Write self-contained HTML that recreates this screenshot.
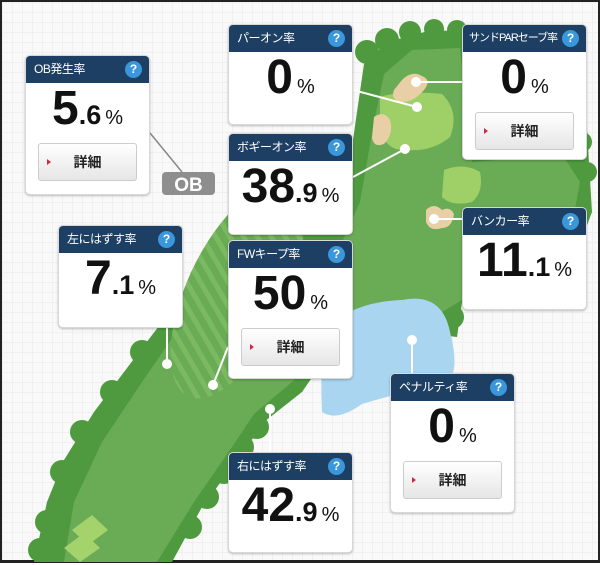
<!DOCTYPE html>
<html><head><meta charset="utf-8"><style>
*{margin:0;padding:0;box-sizing:border-box}
body{width:600px;height:563px;overflow:hidden;background:#fff;font-family:"Liberation Sans","Noto Sans CJK JP",sans-serif}
#f{position:absolute;left:0;top:0;width:600px;height:563px;border:2px solid #222;border-bottom-width:3px;
background-color:#f9f9f9;background-image:linear-gradient(#f0f0f0 1px,transparent 1px),linear-gradient(90deg,#f0f0f0 1px,transparent 1px);background-size:10px 10px}
svg{position:absolute;left:0;top:0}
.c{position:absolute;width:125px;background:#fff;border:1px solid #d8d8d8;border-radius:5px;box-shadow:0 1px 2px rgba(0,0,0,.25);overflow:hidden}
.h{height:27px;background:#1d3f63;color:#fff;font-size:12px;line-height:27px;padding-left:8px;position:relative;letter-spacing:-0.5px;white-space:nowrap}
.q{position:absolute;right:7px;top:5px;width:17px;height:17px;border-radius:50%;background:#3a97db;color:#fff;font-size:12px;font-weight:bold;line-height:17px;text-align:center;letter-spacing:0}
.v{text-align:center;color:#111;font-weight:bold;height:60px;line-height:52px;white-space:nowrap}
.v b{font-size:48px}.v i{font-style:normal;font-size:27px}.v s{text-decoration:none;font-size:20px;font-weight:normal;margin-left:4px}
.btn{margin:0 12px;height:38px;border:1px solid #ccc;border-radius:3px;background:linear-gradient(#fff,#e6e6e6);font-size:14px;font-weight:bold;text-align:center;line-height:36px;position:relative;color:#222}
.btn:before{content:"";position:absolute;left:8px;top:15px;border-left:4px solid #d0284a;border-top:3px solid transparent;border-bottom:3px solid transparent}
</style></head><body><div id="f">
<svg width="600" height="563" viewBox="0 0 600 563">
<defs>
<pattern id="st" width="12" height="12" patternUnits="userSpaceOnUse" patternTransform="rotate(-55)"><rect width="12" height="12" fill="#6aab56"/><rect width="5" height="12" fill="#7cba62"/></pattern>
</defs>
<polygon fill="#4f9a3f" points="32,560 45,500 62,458 92,410 122,370 160,320 186,284 215,258 240,243 330,213 345,180 355,110 362,62 385,40 430,28 470,30 470,150 585,128 590,210 560,290 460,300 455,335 430,332 340,332 300,390 262,420 240,452 200,505 170,560"/>
<g fill="#4f9a3f"><circle cx="365" cy="50" r="12"/><circle cx="385" cy="38" r="12"/><circle cx="408" cy="30" r="11"/><circle cx="432" cy="27" r="10"/><circle cx="455" cy="28" r="10"/><circle cx="580" cy="140" r="10"/><circle cx="585" cy="170" r="10"/><circle cx="450" cy="315" r="12"/><circle cx="440" cy="300" r="11"/><circle cx="255" cy="425" r="12"/><circle cx="240" cy="445" r="12"/><circle cx="222" cy="470" r="12"/><circle cx="205" cy="495" r="12"/><circle cx="188" cy="525" r="12"/><circle cx="60" cy="470" r="12"/><circle cx="80" cy="430" r="12"/><circle cx="110" cy="390" r="12"/><circle cx="140" cy="350" r="12"/><circle cx="170" cy="310" r="12"/><circle cx="200" cy="275" r="12"/><circle cx="45" cy="520" r="12"/><circle cx="38" cy="548" r="12"/></g>
<polygon fill="#6aab56" points="62,560 72,500 100,440 140,380 180,322 215,288 260,265 340,240 358,200 372,120 382,72 410,48 458,46 470,160 560,152 578,180 572,212 470,292 420,322 330,332 290,380 252,412 232,442 192,500 155,560"/>
<ellipse cx="235" cy="290" rx="50" ry="115" transform="rotate(25 235 290)" fill="url(#st)"/>
<path fill="#9fd068" d="M378,95 Q400,88 440,92 Q458,110 448,135 Q430,150 405,148 Q385,150 378,128 Z"/>
<path fill="#9fd068" d="M442,168 Q462,160 478,170 Q482,190 470,200 Q450,205 440,195 Z"/>
<path fill="#e8cfa6" d="M400,78 Q410,68 420,74 Q430,78 422,88 Q412,100 400,100 Q388,98 392,88 Z"/>
<path fill="#e8cfa6" d="M372,115 Q382,108 388,118 Q392,132 382,142 Q372,146 370,136 Z"/>
<path fill="#e8cfa6" d="M424,208 Q432,200 440,208 Q448,204 452,212 Q450,226 440,226 Q428,230 424,220 Z"/>
<path fill="#a9d5f1" d="M322,332 Q345,300 400,298 Q440,290 448,330 Q460,375 440,385 Q405,388 360,402 Q335,420 320,410 Q318,370 322,332 Z"/>
<g fill="#a5d36b"><polygon points="70,528 90,513 106,528 86,543"/><polygon points="62,546 82,531 98,546 78,560"/></g>
<g stroke="#fff" stroke-width="2" fill="#fff">
<line x1="351" y1="88" x2="415" y2="105"/><circle cx="415" cy="105" r="4"/>
<line x1="460" y1="80" x2="414" y2="80"/><circle cx="414" cy="80" r="4"/>
<line x1="351" y1="175" x2="403" y2="147"/><circle cx="403" cy="147" r="4"/>
<line x1="460" y1="217" x2="432" y2="217"/><circle cx="432" cy="217" r="4"/>
<line x1="165" y1="325" x2="165" y2="362"/><circle cx="165" cy="362" r="4"/>
<line x1="226" y1="345" x2="211" y2="383"/><circle cx="211" cy="383" r="4"/>
<line x1="268" y1="450" x2="268" y2="407"/><circle cx="268" cy="407" r="4"/>
<line x1="410" y1="371" x2="410" y2="338"/><circle cx="410" cy="338" r="4"/>
</g>
<line x1="148" y1="131" x2="180" y2="170" stroke="#888" stroke-width="1.5"/>
<rect x="160" y="170" width="53" height="23" rx="4" fill="#8e8e8e"/>
<text x="186.5" y="189" fill="#fff" font-size="19" font-weight="bold" text-anchor="middle" font-family="Liberation Sans,sans-serif">OB</text>
</svg>

<div class="c" style="left:23px;top:53px;height:140px"><div class="h">OB発生率<span class="q">?</span></div><div class="v"><b>5</b><i>.6</i><s>%</s></div><div class="btn">詳細</div></div>
<div class="c" style="left:226px;top:22px;height:101px"><div class="h">パーオン率<span class="q">?</span></div><div class="v"><b>0</b><s>%</s></div></div>
<div class="c" style="left:226px;top:131px;height:102px"><div class="h">ボギーオン率<span class="q">?</span></div><div class="v"><b>38</b><i>.9</i><s>%</s></div></div>
<div class="c" style="left:460px;top:22px;height:136px"><div class="h" style="font-size:11px;letter-spacing:-1px;padding-left:6px">サンドPARセーブ率<span class="q">?</span></div><div class="v"><b>0</b><s>%</s></div><div class="btn">詳細</div></div>
<div class="c" style="left:56px;top:223px;height:103px"><div class="h">左にはずす率<span class="q">?</span></div><div class="v"><b>7</b><i>.1</i><s>%</s></div></div>
<div class="c" style="left:226px;top:238px;height:139px"><div class="h">FWキープ率<span class="q">?</span></div><div class="v"><b>50</b><s>%</s></div><div class="btn">詳細</div></div>
<div class="c" style="left:460px;top:205px;height:103px"><div class="h">バンカー率<span class="q">?</span></div><div class="v"><b>11</b><i>.1</i><s>%</s></div></div>
<div class="c" style="left:388px;top:371px;height:140px"><div class="h">ペナルティ率<span class="q">?</span></div><div class="v"><b>0</b><s>%</s></div><div class="btn">詳細</div></div>
<div class="c" style="left:226px;top:450px;height:101px"><div class="h">右にはずす率<span class="q">?</span></div><div class="v"><b>42</b><i>.9</i><s>%</s></div></div>
</div></body></html>
